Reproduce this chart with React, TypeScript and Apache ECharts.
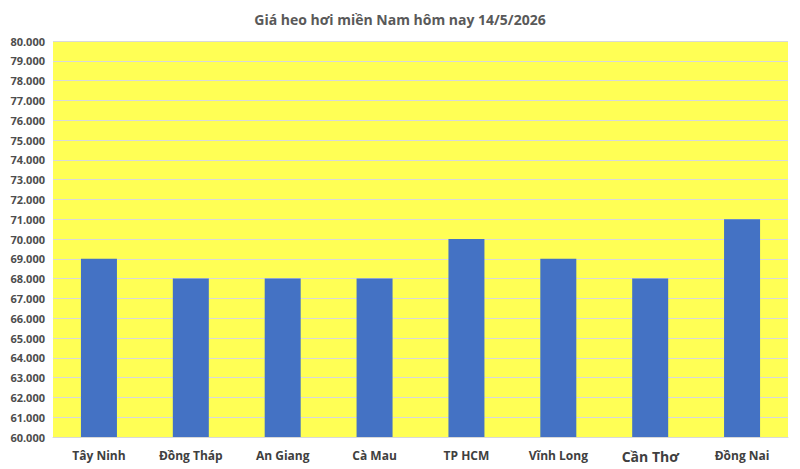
import { useEffect, useRef } from 'react';
import * as echarts from 'echarts';

const TITLE = 'Giá heo hơi miền Nam hôm nay 14/5/2026';
const PROVINCES = ['Tây Ninh', 'Đồng Tháp', 'An Giang', 'Cà Mau', 'TP HCM', 'Vĩnh Long', 'Cần Thơ', 'Đồng Nai'];
const PRICES = [69000, 68000, 68000, 68000, 70000, 69000, 68000, 71000];
const Y_MIN = 60000;
const Y_MAX = 80000;
const Y_STEP = 1000;

const fmt = (v: number) => v.toLocaleString('de-DE');

export default function App() {
  const ref = useRef<HTMLDivElement>(null);

  useEffect(() => {
    if (!ref.current) return;
    const chart = echarts.init(ref.current, undefined, { renderer: 'svg' });
    chart.setOption({
      animation: false,
      backgroundColor: '#fff',
      title: {
        text: TITLE,
        left: 'center',
        top: 7,
        textStyle: { color: '#595959', fontSize: 14, fontWeight: 'bold', fontFamily: 'Open Sans' },
      },
      grid: { left: 53, right: 12, top: 41, bottom: 32, show: true, backgroundColor: '#ffff55', borderWidth: 0 },
      xAxis: {
        type: 'category',
        data: PROVINCES,
        axisLine: { lineStyle: { color: '#d9d9d9' } },
        axisTick: { show: false },
        axisLabel: {
          interval: 0,
          color: '#404040',
          fontSize: 12,
          fontWeight: 'bold',
          fontFamily: 'Open Sans',
          margin: 12,
          formatter: (v: string) => (v === 'Cần Thơ' ? `{big|${v}}` : v),
          rich: { big: { fontSize: 14, fontWeight: 'bold', color: '#404040', fontFamily: 'Open Sans' } },
        },
      },
      yAxis: {
        type: 'value',
        min: Y_MIN,
        max: Y_MAX,
        interval: Y_STEP,
        axisLine: { show: false },
        axisTick: { show: false },
        splitLine: { lineStyle: { color: '#d9d9d9' } },
        axisLabel: {
          color: '#4d4d4d',
          fontSize: 11,
          fontWeight: 'bold',
          fontFamily: 'Open Sans',
          margin: 8,
          formatter: (v: number) => fmt(v),
        },
      },
      series: [
        {
          type: 'bar',
          data: PRICES,
          barWidth: 36,
          itemStyle: { color: '#4472c4' },
        },
      ],
    });
    return () => chart.dispose();
  }, []);

  return <div ref={ref} style={{ position: 'fixed', left: 0, top: 0, width: 800, height: 469 }} />;
}
